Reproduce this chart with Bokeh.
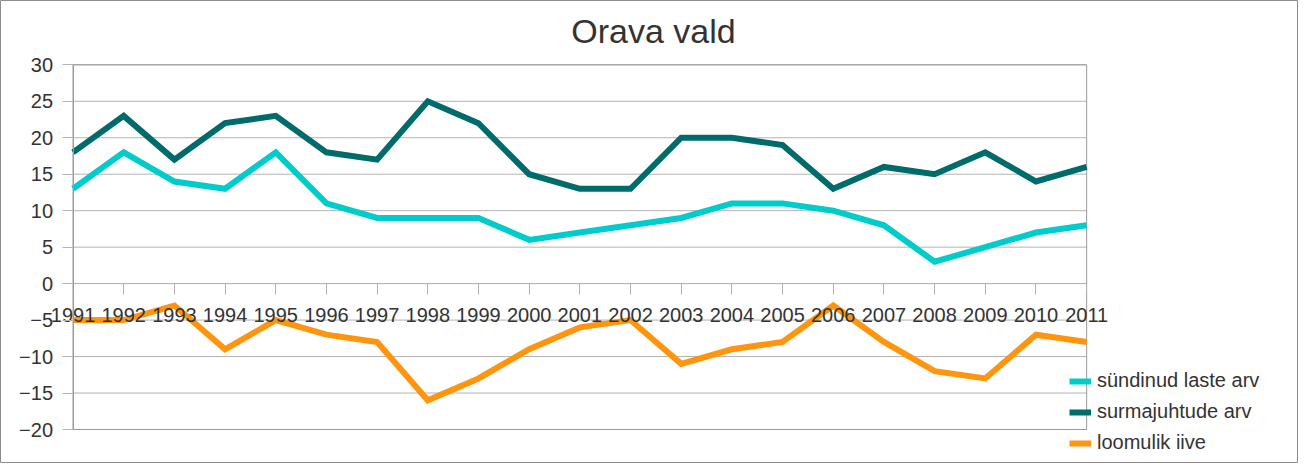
from bokeh.plotting import figure
from bokeh.models import (Range1d, LinearAxis, FixedTicker, Legend, LegendItem, Label)
from bokeh.embed import file_html
from bokeh.resources import INLINE

years = list(range(1991, 2012))
births = [13, 18, 14, 13, 18, 11, 9, 9, 9, 6, 7, 8, 9, 11, 11, 10, 8, 3, 5, 7, 8]
deaths = [18, 23, 17, 22, 23, 18, 17, 25, 22, 15, 13, 13, 20, 20, 19, 13, 16, 15, 18, 14, 16]
natural = [-5, -5, -3, -9, -5, -7, -8, -16, -13, -9, -6, -5, -11, -9, -8, -3, -8, -12, -13, -7, -8]
y_ticks = [-20, -15, -10, -5, 0, 5, 10, 15, 20, 25, 30]
series_names = ["sündinud laste arv", "surmajuhtude arv", "loomulik iive"]
colors = ["#00CCCC", "#006B6B", "#FF950E"]
title_text = "Orava vald"

FONT = "Liberation Sans"
TXT = "#333333"
GRID = "#b3b3b3"
AXIS = "#999999"

p = figure(width=1298, height=463, output_backend="svg", toolbar_location=None,
           x_range=Range1d(1989.569, 2015.18), y_range=Range1d(-24.661, 38.815),
           x_axis_location=None, y_axis_location=None,
           min_border_left=0, min_border_right=0, min_border_top=0, min_border_bottom=0)
p.outline_line_color = "#8c8c8c"
p.background_fill_color = "white"
p.border_fill_color = "white"
p.xgrid.visible = False
p.ygrid.visible = False

# grid lines across the plot area
p.segment(x0=years[0], x1=years[-1], y0=y_ticks, y1=y_ticks, line_color=GRID, line_width=1,
          level="underlay")
# plot area border
p.quad(left=years[0], right=years[-1], bottom=y_ticks[0], top=y_ticks[-1],
       fill_color=None, line_color=AXIS, line_width=1, level="underlay")

yaxis = LinearAxis(ticker=FixedTicker(ticks=y_ticks), fixed_location=years[0],
                   bounds=(y_ticks[0], y_ticks[-1]))
yaxis.axis_line_color = AXIS
yaxis.major_tick_line_color = GRID
yaxis.major_tick_out = 11
yaxis.major_tick_in = 0
yaxis.minor_tick_line_color = None
yaxis.major_label_text_font = FONT
yaxis.major_label_text_font_size = "20px"
yaxis.major_label_text_color = TXT
yaxis.major_label_standoff = 9
p.add_layout(yaxis, "left")

xaxis = LinearAxis(ticker=FixedTicker(ticks=years), fixed_location=0,
                   bounds=(years[0], years[-1]))
xaxis.axis_line_color = GRID
xaxis.major_tick_line_color = GRID
xaxis.major_tick_out = 11
xaxis.major_tick_in = 0
xaxis.minor_tick_line_color = None
xaxis.major_label_text_font = FONT
xaxis.major_label_text_font_size = "20px"
xaxis.major_label_text_color = TXT
xaxis.major_label_standoff = 13
p.add_layout(xaxis, "below")

renderers = []
for vals, col in zip([births, deaths, natural], colors):
    r = p.line(years, vals, line_color=col, line_width=6, line_join="miter")
    renderers.append(r)

legend = Legend(items=[LegendItem(label=n, renderers=[r]) for n, r in zip(series_names, renderers)],
                location=(1069, 9))
legend.background_fill_alpha = 0
legend.border_line_color = None
legend.label_text_font = FONT
legend.label_text_font_size = "20px"
legend.label_text_color = TXT
legend.glyph_width = 22
legend.glyph_height = 20
legend.label_height = 20
legend.spacing = 8
legend.label_standoff = 6
legend.padding = 5
p.add_layout(legend, "center")

title = Label(x=653, y=433, x_units="screen", y_units="screen", text=title_text,
              text_font=FONT, text_font_size="34px", text_color=TXT, text_align="center",
              text_baseline="middle")
p.add_layout(title)

open("out.html", "w").write(file_html(p, INLINE))
